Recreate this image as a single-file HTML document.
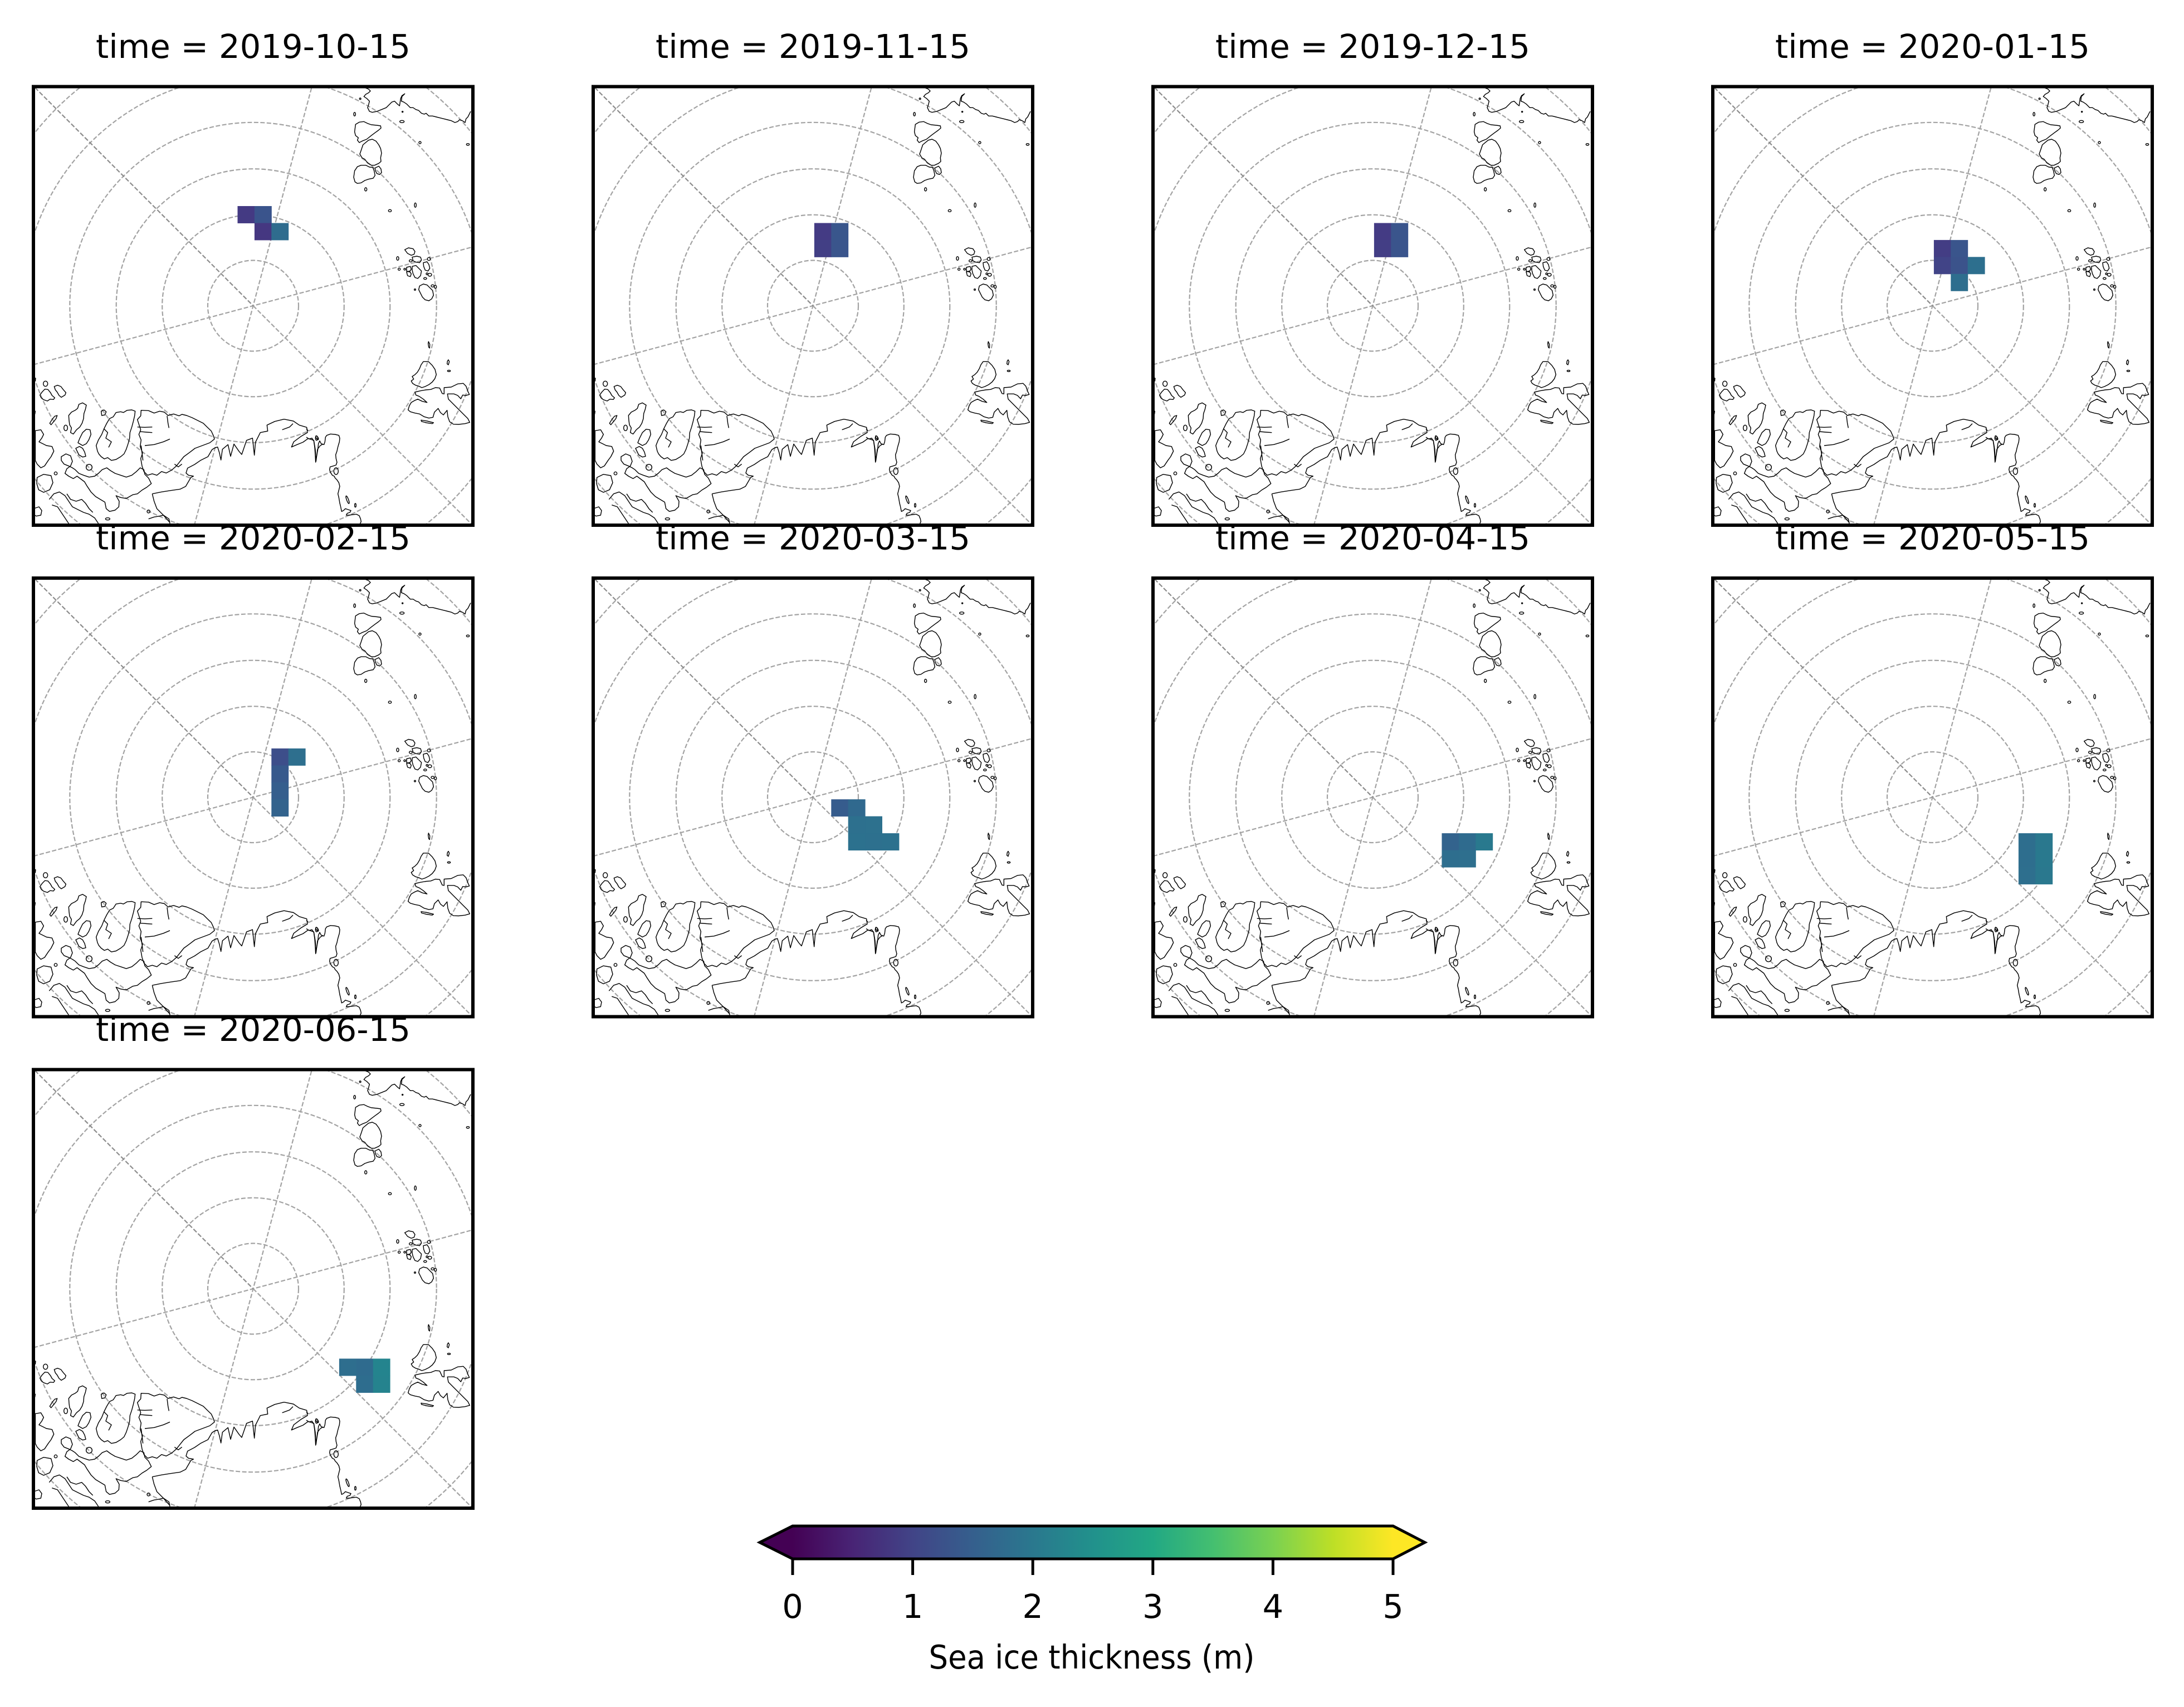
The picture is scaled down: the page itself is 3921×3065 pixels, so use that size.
<!DOCTYPE html>
<html>
<head>
<meta charset="utf-8">
<style>
html,body{margin:0;padding:0;background:#fff;}
svg{display:block;}
text{font-family:"DejaVu Sans","Liberation Sans",sans-serif;fill:#000;}
</style>
</head>
<body>
<svg xmlns="http://www.w3.org/2000/svg" xmlns:xlink="http://www.w3.org/1999/xlink" width="3921" height="3065" viewBox="0 0 3921 3065">
<defs>
  <clipPath id="cp"><rect x="60" y="155.5" width="789" height="787.5"/></clipPath>
  <linearGradient id="vir" gradientUnits="userSpaceOnUse" x1="1423" y1="0" x2="2501" y2="0">
    <stop offset="0" stop-color="#440154"/>
    <stop offset="0.1" stop-color="#482475"/>
    <stop offset="0.2" stop-color="#414487"/>
    <stop offset="0.3" stop-color="#355f8d"/>
    <stop offset="0.4" stop-color="#2a788e"/>
    <stop offset="0.5" stop-color="#21918c"/>
    <stop offset="0.6" stop-color="#22a884"/>
    <stop offset="0.7" stop-color="#44bf70"/>
    <stop offset="0.8" stop-color="#7ad151"/>
    <stop offset="0.9" stop-color="#bddf26"/>
    <stop offset="1" stop-color="#fde725"/>
  </linearGradient>
  <g id="map" clip-path="url(#cp)">
    <rect x="60" y="155.5" width="789" height="787.5" fill="#fff"/>
    <g fill="none" stroke="#a3a3a3" stroke-width="2.2" stroke-dasharray="8 3.5">
      <circle cx="454.5" cy="549" r="81.5"/>
      <circle cx="454.5" cy="549" r="163.3"/>
      <circle cx="454.5" cy="549" r="245.8"/>
      <circle cx="454.5" cy="549" r="329.2"/>
      <circle cx="454.5" cy="549" r="413.8"/>
      <circle cx="454.5" cy="549" r="500.2"/>
      <line x1="454.5" y1="549" x2="878.8" y2="973.3"/>
      <line x1="609.8" y1="-30.6" x2="299.2" y2="1128.6"/>
      <line x1="1034.1" y1="393.7" x2="-125.1" y2="704.3"/>
    </g>
    <line x1="30.2" y1="124.7" x2="454.5" y2="549" stroke="#8c8c8c" stroke-width="2.2" stroke-dasharray="8 3.5"/>
    <g transform="translate(60 620) scale(0.3333333)" fill="none" stroke="#000" stroke-width="4.3" stroke-linejoin="round">
      <ellipse cx="65" cy="207" rx="12" ry="14"/>
      <path d="M35,268 L48,250 62,236 78,238 92,255 100,270 115,283 108,292 90,290 75,300 55,293 42,283 Z"/>
      <path d="M112,222 L130,215 148,222 160,238 175,255 170,268 150,280 138,270 128,252 118,240 Z"/>
      <path d="M88,420 L100,400 115,382 128,378 122,395 110,410 95,428 Z"/>
      <ellipse cx="174" cy="445" rx="10" ry="15"/>
      <path d="M190,378 L205,360 225,350 238,340 245,318 265,310 285,322 280,345 272,368 270,395 262,420 250,440 232,455 215,478 200,470 205,445 195,428 192,405 Z"/>
      <path d="M240,525 L250,500 265,470 285,452 305,455 310,480 298,510 285,530 265,540 Z"/>
      <path d="M228,555 L248,545 265,555 276,575 282,598 265,602 245,590 Z"/>
      <circle cx="300" cy="657" r="16"/>
      <path d="M365,355 L380,348 392,358 385,375 368,378 Z"/>
      <path d="M345,570 L338,540 350,510 368,480 380,450 395,420 410,395 430,385 445,362 470,358 485,362 505,350 530,348 548,355 545,380 538,410 530,440 520,470 518,500 510,530 500,560 488,585 470,600 445,615 420,620 400,605 382,612 365,600 352,585 Z"/>
      <path d="M580,350 L620,352 650,365 680,355 705,360 725,378 755,370 785,380 800,372 825,378 855,390 885,405 915,420 935,440 958,462 970,488 975,505 950,525 910,540 870,555 840,578 810,600 790,625 770,650 745,672 715,688 690,680 665,700 640,692 615,700 595,680 585,650 578,610 588,580 575,545 580,510 568,480 578,455 568,425 560,400 578,380 Z"/>
      <path d="M560,440 L600,442 640,440"/>
      <path d="M575,465 L610,468 640,470"/>
      <path d="M600,540 L650,535 700,520 735,505"/>
      <path d="M580,540 L585,580 590,620"/>
      <path d="M720,380 L725,420 730,445"/>
      <path d="M380,450 L400,470 390,500 420,520 405,550"/>
      <path d="M760,640 L780,655 800,640"/>
      <path d="M20,712 L55,695 95,702 105,740 88,778 55,792 28,778 18,745 Z"/>
      <path d="M150,600 L175,585 200,595 210,625 200,650 180,665 170,690 190,705 215,718 235,705 255,720 275,735 290,760 310,790 335,815 360,830 385,845 392,880 410,895 440,888 460,870 462,840 445,810 470,820 500,825 535,805 560,800 585,780 610,765 635,745 620,715 600,695 595,670 575,660 555,680 530,700 500,710 470,700 440,690 415,675 395,660 370,670 350,690 330,705 300,710 270,700 245,690 225,670 210,660 190,650 165,640 150,620 Z"/>
      <path d="M10,460 L40,455 55,480 45,500 30,520 50,530 70,540 100,545 110,570 95,600 80,620 60,650 40,660 20,640 10,620 Z"/>
      <path d="M0,880 L30,870 45,890 40,915 15,920 0,910"/>
      <path d="M85,830 L110,800 140,790 170,810 190,840 210,870 240,885 270,900 300,910 330,930 350,960"/>
      <path d="M180,800 L200,830 230,840 260,830 280,850 300,880 320,900"/>
      <path d="M100,860 L130,870 150,900 170,930 190,960"/>
      <path d="M640,800 L690,790 740,782 790,775 820,760 848,712 862,705 835,700 822,688 830,662 868,642 900,620 940,600 962,562 978,552"/>
      <path d="M640,800 L650,840 665,880 700,915 735,955"/>
      <path d="M978,552 L992,548 1002,580 1010,618 1018,560 1048,535 1062,598 1080,532 1108,572 1122,588 1148,512 1180,500 1190,592 1196,522 1222,470 1262,462 1258,430 1300,410 1350,398 1400,408 1432,430 1472,442 1476,470 1442,490 1402,520 1390,548 1420,535 1452,522 1480,502 1510,512 1518,560 1522,625 1530,560 1545,540 1560,532"/>
      <path d="M1340,455 L1380,440 1398,422"/>
      <ellipse cx="1525" cy="500" rx="6" ry="12"/>
      <ellipse cx="400" cy="935" rx="12" ry="6"/>
      <circle cx="620" cy="895" r="8"/>
      <circle cx="120" cy="690" r="8"/>
      <path d="M620,935 L650,925 680,920 700,915 730,935 735,960"/>
      <path d="M0,170 L12,178 10,192 0,190"/>
      <path d="M0,350 L10,355 8,370 0,372"/>
    </g>
    <g transform="translate(630 150) scale(0.3333333)" fill="none" stroke="#000" stroke-width="4.3" stroke-linejoin="round">
      <path d="M75,22 L95,30 105,40 95,50 80,58 70,70 85,80 100,95 95,115 90,130 100,150 115,155 140,150 165,140 190,130 205,115 220,100 235,95 250,110 262,120 265,100 268,80 275,65 290,55 275,70 272,95 285,100 300,110 310,120 320,130 335,130 350,140 365,145 380,160 395,165 405,160 420,175 440,175 460,180 480,185 500,190 520,195 540,200 560,210 575,205 585,195 600,200 615,210 620,190 630,180 640,160 645,150"/>
      <circle cx="50" cy="82" r="4"/>
      <ellipse cx="20" cy="165" rx="5" ry="10"/>
      <circle cx="278" cy="152" r="3"/>
      <ellipse cx="275" cy="205" rx="12" ry="6"/>
      <circle cx="372" cy="318" r="6"/>
      <ellipse cx="630" cy="328" rx="8" ry="5"/>
      <ellipse cx="80" cy="570" rx="6" ry="9"/>
      <ellipse cx="210" cy="685" rx="8" ry="6"/>
      <ellipse cx="347" cy="655" rx="5" ry="12"/>
      <path d="M25,220 L45,208 70,205 90,215 110,222 140,225 160,228 162,240 148,252 130,265 110,280 85,300 60,310 45,318 35,305 40,292 25,280 20,260 Z"/>
      <path d="M65,330 L95,305 115,300 135,310 150,330 160,350 165,375 160,400 162,420 150,430 128,440 110,440 90,428 75,408 60,400 48,380 55,360 Z"/>
      <path d="M20,470 L35,448 55,440 80,440 100,450 118,452 125,470 130,495 120,510 95,515 75,522 55,535 35,538 22,530 15,505 Z"/>
      <path d="M130,455 L150,445 162,460 165,480 155,490 140,485 132,470 Z"/>
      <path d="M290,895 L310,885 335,890 345,905 340,920 325,925 305,915 Z"/>
      <ellipse cx="252" cy="942" rx="6" ry="10"/>
      <path d="M330,935 L355,930 375,935 380,950 370,965 350,962 335,955 Z"/>
      <ellipse cx="322" cy="955" rx="8" ry="6"/>
      <path d="M390,965 L410,960 420,975 425,995 415,1010 400,1005 392,985 Z"/>
      <path d="M300,990 L320,985 325,1000 315,1015 300,1010 Z"/>
      <circle cx="290" cy="1000" r="5"/>
      <path d="M330,985 L350,980 365,995 380,1010 375,1035 360,1050 345,1045 335,1025 330,1005 Z"/>
      <path d="M300,1015 L315,1010 325,1025 320,1040 305,1035 Z"/>
      <circle cx="420" cy="945" r="8"/>
      <circle cx="260" cy="1000" r="6"/>
      <circle cx="410" cy="1025" r="5"/>
      <ellipse cx="425" cy="1030" rx="10" ry="8"/>
      <ellipse cx="400" cy="1050" rx="8" ry="5"/>
      <path d="M370,1090 L390,1080 410,1085 425,1100 440,1115 445,1140 435,1160 420,1170 400,1165 385,1150 375,1130 365,1110 Z"/>
      <circle cx="345" cy="1110" r="4"/>
      <ellipse cx="440" cy="1090" rx="8" ry="6"/>
      <ellipse cx="455" cy="1095" rx="6" ry="8"/>
    </g>
    <g transform="translate(670 560) scale(0.3333333)" fill="none" stroke="#000" stroke-width="4.3" stroke-linejoin="round">
      <path d="M298,160 L305,175 304,195 299,190 296,170 Z"/>
      <path d="M405,258 L410,268 405,285 398,280 400,265 Z"/>
      <ellipse cx="408" cy="318" rx="8" ry="4"/>
      <path d="M270,268 L298,268 318,288 333,310 340,338 332,360 318,378 300,392 280,402 262,408 245,400 228,395 212,385 205,372 218,362 210,348 225,338 238,325 250,305 258,285 Z"/>
      <path d="M225,432 L255,425 285,420 310,418 335,408 358,410 372,440 382,442 382,408 420,405 455,388 485,385 500,400 510,428 518,445 500,450 482,448 472,468 455,450 435,442 400,442 405,470 430,495 460,525 490,555 510,575 520,595 495,602 460,606 432,605 412,592 402,565 398,530 378,555 362,542 350,520 330,540 322,568 300,572 275,565 250,550 225,545 200,538 188,528 195,505 205,488 222,478 240,470 265,482 290,488 270,470 248,455 230,448 Z"/>
      <path d="M258,583 L290,588 325,597 318,602 285,597 260,590 Z"/>
    </g>
    <g transform="translate(550 760) scale(0.3333333)" fill="none" stroke="#000" stroke-width="4.3" stroke-linejoin="round">
      <path d="M0,75 L15,85 30,80 40,95 45,130 48,170 50,210 55,180 62,140 65,110 72,95 80,110 95,115 100,100 103,75 110,65 130,58 155,60 175,65 180,80 178,100 172,120 168,135 165,150 158,170 160,190 165,210 160,225 145,230 128,235 125,250 130,265 140,280 150,285 155,295 165,305 175,320 180,340 175,360 170,380 175,400 180,430 185,450 190,475 200,470 210,460 225,465 240,470 235,480 220,485 215,495 230,495 250,492 270,490 285,498 292,515 295,530 290,540"/>
      <ellipse cx="58" cy="78" rx="5" ry="12" transform="rotate(-30 58 78)"/>
      <ellipse cx="160" cy="258" rx="12" ry="18"/>
      <ellipse cx="222" cy="412" rx="5" ry="22" transform="rotate(-20 222 412)"/>
      <ellipse cx="264" cy="442" rx="4" ry="10"/>
      <path d="M0,30 L10,40"/>
    </g>
  </g>
  <g id="panel">
    <use xlink:href="#map" href="#map"/>
    <rect x="60" y="155.5" width="789" height="787.5" fill="none" stroke="#000" stroke-width="6"/>
  </g>
</defs>

<rect x="0" y="0" width="3921" height="3065" fill="#fff"/>

<use xlink:href="#panel" href="#panel" x="0" y="0"/>
<use xlink:href="#panel" href="#panel" x="1005" y="0"/>
<use xlink:href="#panel" href="#panel" x="2010" y="0"/>
<use xlink:href="#panel" href="#panel" x="3015" y="0"/>
<use xlink:href="#panel" href="#panel" x="0" y="882.5"/>
<use xlink:href="#panel" href="#panel" x="1005" y="882.5"/>
<use xlink:href="#panel" href="#panel" x="2010" y="882.5"/>
<use xlink:href="#panel" href="#panel" x="3015" y="882.5"/>
<use xlink:href="#panel" href="#panel" x="0" y="1765"/>

<g>
  <rect x="426.5" y="370" width="30.9" height="30.95" fill="#443a83"/>
  <rect x="456.9" y="370" width="30.9" height="30.95" fill="#3a548c"/>
  <rect x="456.9" y="400.45" width="30.9" height="30.95" fill="#453781"/>
  <rect x="487.3" y="400.45" width="30.9" height="30.95" fill="#2f6c8e"/>
</g>
<g transform="translate(1005 0)">
  <rect x="456.9" y="400.45" width="30.9" height="30.95" fill="#443b84"/>
  <rect x="487.3" y="400.45" width="30.9" height="30.95" fill="#39568c"/>
  <rect x="456.9" y="430.9" width="30.9" height="30.95" fill="#423f85"/>
  <rect x="487.3" y="430.9" width="30.9" height="30.95" fill="#3a558c"/>
</g>
<g transform="translate(2010 0)">
  <rect x="456.9" y="400.45" width="30.9" height="30.95" fill="#443b84"/>
  <rect x="487.3" y="400.45" width="30.9" height="30.95" fill="#3a558c"/>
  <rect x="456.9" y="430.9" width="30.9" height="30.95" fill="#433e85"/>
  <rect x="487.3" y="430.9" width="30.9" height="30.95" fill="#3a548c"/>
</g>
<g transform="translate(3015 0)">
  <rect x="456.9" y="430.9" width="30.9" height="30.95" fill="#433d84"/>
  <rect x="487.3" y="430.9" width="30.9" height="30.95" fill="#3a558c"/>
  <rect x="456.9" y="461.35" width="30.9" height="30.95" fill="#414487"/>
  <rect x="487.3" y="461.35" width="30.9" height="30.95" fill="#3b538b"/>
  <rect x="517.7" y="461.35" width="30.9" height="30.95" fill="#2d6f8e"/>
  <rect x="487.3" y="491.8" width="30.9" height="30.95" fill="#2e6e8e"/>
</g>
<g transform="translate(0 882.5)">
  <rect x="487.3" y="461.35" width="30.9" height="30.95" fill="#3d4e8a"/>
  <rect x="517.7" y="461.35" width="30.9" height="30.95" fill="#2e6f8e"/>
  <rect x="487.3" y="491.8" width="30.9" height="30.95" fill="#37598c"/>
  <rect x="487.3" y="522.25" width="30.9" height="30.95" fill="#355e8d"/>
  <rect x="487.3" y="552.7" width="30.9" height="30.95" fill="#33638d"/>
</g>
<g transform="translate(1005 882.5)">
  <rect x="487.3" y="552.7" width="30.9" height="30.95" fill="#365c8d"/>
  <rect x="517.7" y="552.7" width="30.9" height="30.95" fill="#30698e"/>
  <rect x="517.7" y="583.15" width="30.9" height="30.95" fill="#2d708e"/>
  <rect x="548.1" y="583.15" width="30.9" height="30.95" fill="#2d718e"/>
  <rect x="517.7" y="613.6" width="30.9" height="30.95" fill="#2c718e"/>
  <rect x="548.1" y="613.6" width="30.9" height="30.95" fill="#2d708e"/>
  <rect x="578.5" y="613.6" width="30.9" height="30.95" fill="#2c718e"/>
</g>
<g transform="translate(2010 882.5)">
  <rect x="578.5" y="613.6" width="30.9" height="30.95" fill="#33638d"/>
  <rect x="608.9" y="613.6" width="30.9" height="30.95" fill="#2f6b8e"/>
  <rect x="639.3" y="613.6" width="30.9" height="30.95" fill="#29798e"/>
  <rect x="578.5" y="644.05" width="30.9" height="30.95" fill="#2e6e8e"/>
  <rect x="608.9" y="644.05" width="30.9" height="30.95" fill="#2e6f8e"/>
</g>
<g transform="translate(3015 882.5)">
  <rect x="608.9" y="613.6" width="30.9" height="30.95" fill="#2e6e8e"/>
  <rect x="639.3" y="613.6" width="30.9" height="30.95" fill="#2a788e"/>
  <rect x="608.9" y="644.05" width="30.9" height="30.95" fill="#2e6e8e"/>
  <rect x="639.3" y="644.05" width="30.9" height="30.95" fill="#29798e"/>
  <rect x="608.9" y="674.5" width="30.9" height="30.95" fill="#2e6f8e"/>
  <rect x="639.3" y="674.5" width="30.9" height="30.95" fill="#2a788e"/>
</g>
<g transform="translate(0 1765)">
  <rect x="608.9" y="674.5" width="30.9" height="30.95" fill="#2e6e8e"/>
  <rect x="639.3" y="674.5" width="30.9" height="30.95" fill="#2f6b8e"/>
  <rect x="669.7" y="674.5" width="30.9" height="30.95" fill="#24848e"/>
  <rect x="639.3" y="704.95" width="30.9" height="30.95" fill="#2e6d8e"/>
  <rect x="669.7" y="704.95" width="30.9" height="30.95" fill="#25838e"/>
</g>

<g font-size="59" text-anchor="middle">
  <text x="454.5" y="104" textLength="565" lengthAdjust="spacingAndGlyphs">time = 2019-10-15</text>
  <text x="1459.5" y="104" textLength="565" lengthAdjust="spacingAndGlyphs">time = 2019-11-15</text>
  <text x="2464.5" y="104" textLength="565" lengthAdjust="spacingAndGlyphs">time = 2019-12-15</text>
  <text x="3469.5" y="104" textLength="565" lengthAdjust="spacingAndGlyphs">time = 2020-01-15</text>
  <text x="454.5" y="986.5" textLength="565" lengthAdjust="spacingAndGlyphs">time = 2020-02-15</text>
  <text x="1459.5" y="986.5" textLength="565" lengthAdjust="spacingAndGlyphs">time = 2020-03-15</text>
  <text x="2464.5" y="986.5" textLength="565" lengthAdjust="spacingAndGlyphs">time = 2020-04-15</text>
  <text x="3469.5" y="986.5" textLength="565" lengthAdjust="spacingAndGlyphs">time = 2020-05-15</text>
  <text x="454.5" y="1869" textLength="565" lengthAdjust="spacingAndGlyphs">time = 2020-06-15</text>
</g>

<polygon points="1364,2769.5 1423,2740 1423,2799" fill="#440154"/>
<polygon points="2558,2769.5 2501,2740 2501,2799" fill="#fde725"/>
<rect x="1422.5" y="2740" width="1079" height="59" fill="url(#vir)"/>
<polygon points="1364,2769.5 1423,2740 2501,2740 2558,2769.5 2501,2799 1423,2799" fill="none" stroke="#000" stroke-width="5" stroke-linejoin="miter"/>
<g stroke="#000" stroke-width="5">
  <line x1="1423" y1="2799" x2="1423" y2="2828"/>
  <line x1="1638.6" y1="2799" x2="1638.6" y2="2828"/>
  <line x1="1854.2" y1="2799" x2="1854.2" y2="2828"/>
  <line x1="2069.8" y1="2799" x2="2069.8" y2="2828"/>
  <line x1="2285.4" y1="2799" x2="2285.4" y2="2828"/>
  <line x1="2501" y1="2799" x2="2501" y2="2828"/>
</g>
<g font-size="59" text-anchor="middle">
  <text x="1423" y="2905">0</text>
  <text x="1638.6" y="2905">1</text>
  <text x="1854.2" y="2905">2</text>
  <text x="2069.8" y="2905">3</text>
  <text x="2285.4" y="2905">4</text>
  <text x="2501" y="2905">5</text>
</g>
<text x="1960" y="2996" font-size="59" text-anchor="middle" textLength="585" lengthAdjust="spacingAndGlyphs">Sea ice thickness (m)</text>
</svg>
</body>
</html>
